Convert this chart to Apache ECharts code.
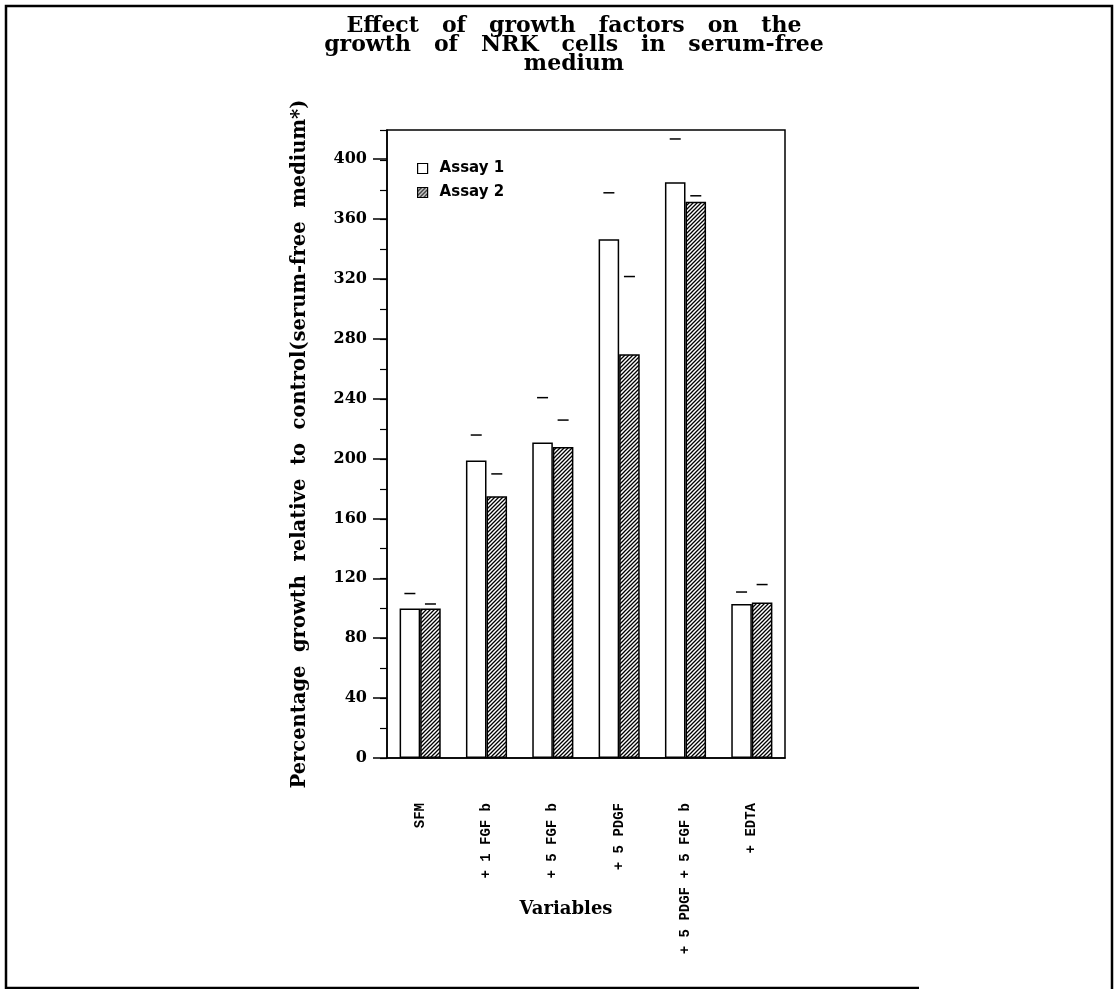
<!DOCTYPE html>
<html>
<head>
<meta charset="utf-8">
<script src="https://cdn.jsdelivr.net/npm/echarts@6/dist/echarts.min.js"></script>
<style>
  html, body { margin: 0; padding: 0; background: #fff; }
  #chart { width: 1118px; height: 989px; }
</style>
</head>
<body>
<div id="chart"></div>
<script>
// Treatments and the two assays (percent growth vs. serum-free control)
const categories = ['SFM', '+ 1 FGF b', '+ 5 FGF b', '+ 5 PDGF', '+ 5 PDGF + 5 FGF b', '+ EDTA'];
const seriesNames = ['Assay 1', 'Assay 2'];
const assay1 = [100, 199, 211, 347, 385, 103];
const assay2 = [100, 175, 208, 270, 372, 104];
// Upper ends of the error bars
const assay1Upper = [110, 216, 241, 378, 414, 111];
const assay2Upper = [103, 190, 226, 322, 376, 116];

const titleText = 'Effect   of   growth   factors   on   the\ngrowth   of   NRK   cells   in   serum-free\nmedium';
const yTitle = 'Percentage  growth  relative  to  control(serum-free  medium*)';
const xTitle = 'Variables';

const GAP = 0.38; // barCategoryGap as a ratio

// Diagonal hatch used for the second assay
function hatchPattern() {
  const c = document.createElement('canvas');
  c.width = 4; c.height = 4;
  const g = c.getContext('2d');
  g.fillStyle = '#fff';
  g.fillRect(0, 0, 4, 4);
  g.strokeStyle = '#000';
  g.lineWidth = 1.3;
  g.beginPath();
  g.moveTo(-1, 5); g.lineTo(5, -1);
  g.moveTo(-1, 1); g.lineTo(1, -1);
  g.moveTo(3, 5); g.lineTo(5, 3);
  g.stroke();
  return c;
}

const capData = [];
assay1Upper.forEach((v, i) => capData.push([i, v, 0]));
assay2Upper.forEach((v, i) => capData.push([i, v, 1]));

const serifBold = { fontFamily: 'DejaVu Serif', fontWeight: 'bold', color: '#000' };

const chart = echarts.init(document.getElementById('chart'), null, { renderer: 'canvas' });

chart.setOption({
  backgroundColor: '#fff',
  animation: false,
  grid: [
    { left: 387, top: 130, width: 398, height: 628, show: true, borderColor: '#000', borderWidth: 1.5, backgroundColor: 'transparent' },
    { left: 387, top: 159, width: 398, height: 599, show: false }
  ],
  legend: {
    data: seriesNames,
    orient: 'vertical',
    left: 412,
    top: 156,
    itemWidth: 10,
    itemHeight: 10,
    itemGap: 9,
    icon: 'rect',
    itemStyle: { borderColor: '#000', borderWidth: 1.2 },
    textStyle: { fontFamily: 'DejaVu Sans', fontWeight: 'bold', fontSize: 15, color: '#000', padding: [0, 0, 0, 7] }
  },
  xAxis: [
    {
      type: 'category', gridIndex: 0, data: categories,
      axisLine: { lineStyle: { color: '#000', width: 1.5 } },
      axisTick: { alignWithLabel: true, length: 22, lineStyle: { color: '#000', width: 1.5 } },
      axisLabel: {
        rotate: 90, margin: 45, interval: 0,
        fontFamily: 'Liberation Mono', fontWeight: 'bold', fontSize: 14, color: '#000'
      }
    },
    { type: 'category', gridIndex: 1, data: categories, show: false }
  ],
  yAxis: [
    {
      type: 'value', gridIndex: 0, min: 0, max: 420, interval: 20,
      name: yTitle, nameLocation: 'middle', nameGap: 77,
      nameTextStyle: Object.assign({ fontSize: 19.5 }, serifBold),
      axisLine: { show: true, lineStyle: { color: '#000', width: 1.5 } },
      axisTick: { show: true, length: 7, lineStyle: { color: '#000', width: 1.2 } },
      axisLabel: { show: false },
      splitLine: { show: false }
    },
    {
      type: 'value', gridIndex: 1, min: 0, max: 400, interval: 40,
      axisLine: { show: false },
      axisTick: { show: true, length: 14, lineStyle: { color: '#000', width: 1.5 } },
      axisLabel: Object.assign({ margin: 20, fontSize: 16 }, serifBold),
      splitLine: { show: false }
    }
  ],
  series: [
    {
      name: seriesNames[0], type: 'bar', xAxisIndex: 0, yAxisIndex: 0,
      data: assay1, barGap: '0%', barCategoryGap: (GAP * 100) + '%',
      itemStyle: { color: '#fff', borderColor: '#000', borderWidth: 1.5 }
    },
    {
      name: seriesNames[1], type: 'bar', xAxisIndex: 0, yAxisIndex: 0,
      data: assay2, barGap: '0%', barCategoryGap: (GAP * 100) + '%',
      itemStyle: { color: { image: hatchPattern(), repeat: 'repeat' }, borderColor: '#000', borderWidth: 1.5 }
    },
    {
      type: 'custom', xAxisIndex: 0, yAxisIndex: 0, silent: true, z: 5,
      data: capData,
      encode: { x: 0, y: 1 },
      renderItem: function (params, api) {
        const p = api.coord([api.value(0), api.value(1)]);
        const band = api.size([1, 0])[0];
        const barW = band * (1 - GAP) / 2;
        const cx = p[0] + (api.value(2) === 0 ? -barW / 2 : barW / 2);
        return {
          type: 'line',
          shape: { x1: cx - 5.5, y1: p[1], x2: cx + 5.5, y2: p[1] },
          style: { stroke: '#000', lineWidth: 1.5 }
        };
      }
    }
  ],
  graphic: [
    {
      type: 'text', x: 574, y: 17,
      style: {
        text: titleText, textAlign: 'center', textVerticalAlign: 'top',
        font: 'bold 22px "DejaVu Serif"', lineHeight: 19, fill: '#000'
      }
    },
    {
      type: 'text', x: 566, y: 900,
      style: {
        text: xTitle, textAlign: 'center', textVerticalAlign: 'top',
        font: 'bold 18px "DejaVu Serif"', fill: '#000'
      }
    },
    {
      type: 'polyline',
      shape: { points: [[919, 988], [6, 988], [6, 6], [1112, 6], [1112, 989]] },
      style: { stroke: '#000', lineWidth: 2.5, fill: null }
    }
  ]
});
</script>
</body>
</html>
